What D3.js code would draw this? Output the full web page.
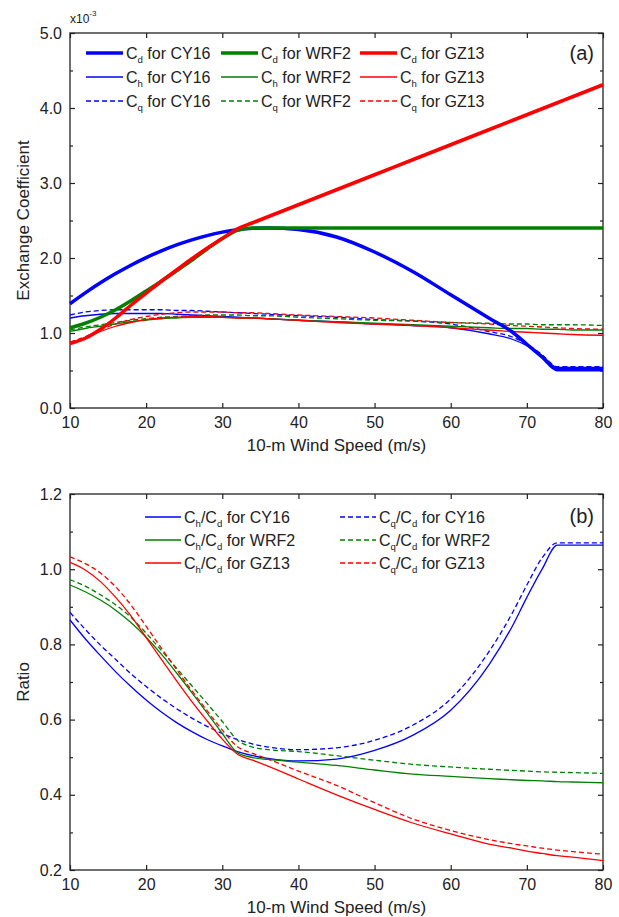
<!DOCTYPE html>
<html>
<head>
<meta charset="utf-8">
<script src="https://cdn.jsdelivr.net/npm/d3@7"></script>
<style>
  html, body { margin: 0; padding: 0; background: #fff; }
  svg { display: block; font-family: "Liberation Sans", Arial, Helvetica, sans-serif; }
</style>
</head>
<body>
<svg id="chart" width="619" height="917"></svg>
<script>
// 10-m wind speed (m/s) shared by every curve
const windSpeed = [10,12,14,16,18,20,22,24,26,28,30,32,34,36,40,45,50,55,60,65,68,70,72,74,76,80];

// Panel (a): exchange coefficients (x10^-3)
const cdCY16 = [1.39,1.535,1.669,1.792,1.904,2.005,2.095,2.174,2.242,2.299,2.345,2.378,2.395,2.40,2.38,2.28,2.08,1.82,1.51,1.20,1.02,0.85,0.68,0.51,0.51,0.51];
const cdWRF2 = [1.07,1.13,1.21,1.31,1.43,1.56,1.69,1.83,1.97,2.12,2.26,2.37,2.40,2.40,2.40,2.40,2.40,2.40,2.40,2.40,2.40,2.40,2.40,2.40,2.40,2.40];
const cdGZ13 = [0.86,0.93,1.05,1.20,1.37,1.53,1.69,1.84,1.99,2.13,2.26,2.39,2.47,2.55,2.71,2.91,3.11,3.31,3.51,3.71,3.83,3.91,3.99,4.07,4.15,4.31];
const chCY16 = [1.20,1.23,1.25,1.26,1.26,1.26,1.26,1.25,1.24,1.23,1.22,1.21,1.20,1.19,1.17,1.15,1.12,1.10,1.07,0.99,0.92,0.83,0.70,0.54,0.54,0.54];
const chWRF2 = [1.02,1.06,1.09,1.12,1.15,1.17,1.19,1.20,1.21,1.21,1.21,1.20,1.20,1.19,1.17,1.15,1.13,1.11,1.09,1.07,1.06,1.06,1.05,1.05,1.04,1.04];
const chGZ13 = [0.87,0.93,1.02,1.09,1.14,1.18,1.20,1.21,1.22,1.22,1.21,1.20,1.20,1.19,1.17,1.14,1.12,1.10,1.07,1.04,1.02,1.01,1.00,0.99,0.98,0.97];
const cqCY16 = [1.24,1.28,1.30,1.31,1.31,1.31,1.31,1.30,1.30,1.29,1.28,1.27,1.26,1.25,1.23,1.21,1.18,1.16,1.12,1.02,0.95,0.85,0.71,0.55,0.55,0.55];
const cqWRF2 = [1.04,1.08,1.11,1.14,1.17,1.19,1.21,1.22,1.23,1.24,1.24,1.24,1.23,1.23,1.21,1.19,1.17,1.16,1.14,1.13,1.12,1.12,1.11,1.11,1.11,1.10];
const cqGZ13 = [0.88,0.95,1.04,1.12,1.18,1.22,1.25,1.27,1.28,1.28,1.28,1.27,1.27,1.26,1.24,1.22,1.20,1.17,1.14,1.12,1.10,1.09,1.08,1.07,1.06,1.05];

// Panel (b): ratios
const chcdCY16 = [0.865,0.815,0.770,0.727,0.688,0.652,0.620,0.592,0.568,0.547,0.530,0.515,0.504,0.497,0.490,0.495,0.518,0.558,0.625,0.745,0.845,0.925,1.000,1.064,1.064,1.064];
const cqcdCY16 = [0.885,0.840,0.798,0.760,0.722,0.688,0.657,0.629,0.604,0.582,0.563,0.547,0.535,0.527,0.520,0.525,0.545,0.585,0.655,0.780,0.880,0.958,1.030,1.070,1.070,1.070];
const chcdWRF2 = [0.958,0.940,0.918,0.891,0.858,0.819,0.774,0.724,0.672,0.618,0.563,0.512,0.499,0.494,0.487,0.478,0.466,0.455,0.449,0.443,0.440,0.438,0.437,0.435,0.434,0.432];
const cqcdWRF2 = [0.972,0.955,0.932,0.905,0.872,0.830,0.784,0.737,0.690,0.643,0.595,0.545,0.527,0.520,0.515,0.504,0.492,0.481,0.474,0.468,0.465,0.463,0.461,0.460,0.459,0.457];
const chcdGZ13 = [1.018,0.998,0.967,0.925,0.876,0.818,0.760,0.703,0.648,0.597,0.548,0.508,0.492,0.476,0.442,0.400,0.361,0.325,0.296,0.269,0.258,0.250,0.244,0.238,0.234,0.225];
const cqcdGZ13 = [1.033,1.015,0.990,0.953,0.905,0.848,0.790,0.733,0.677,0.624,0.572,0.528,0.510,0.495,0.463,0.425,0.379,0.336,0.305,0.281,0.270,0.264,0.258,0.253,0.249,0.242];

// Axis ticks
const xTicks = [10,20,30,40,50,60,70,80];
const yTicksA = [0,1,2,3,4,5];
const yMinorA = [0.5,1.5,2.5,3.5,4.5];
const yTicksB = [0.2,0.4,0.6,0.8,1.0,1.2];
const yMinorB = [0.3,0.5,0.7,0.9,1.1];

const models = ["CY16", "WRF2", "GZ13"];
const colors = { CY16: "#0000ff", WRF2: "#008000", GZ13: "#ff0000" };

const svg = d3.select("#chart");
svg.append("rect").attr("width", 619).attr("height", 917).attr("fill", "#fff");

const x = d3.scaleLinear().domain([10, 80]).range([70, 603]);
const yA = d3.scaleLinear().domain([0, 5]).range([408, 33]);
const yB = d3.scaleLinear().domain([0.2, 1.2]).range([870, 494]);

const AXIS_COLOR = "#222";

function drawFrame(y, yTicks, yMinor) {
  const [y0, y1] = y.range();
  const g = svg.append("g");
  const style = sel => {
    sel.select(".domain").remove();
    sel.attr("font-family", null).attr("font-size", 16).attr("fill", AXIS_COLOR);
    sel.selectAll("line").attr("stroke", AXIS_COLOR).attr("stroke-width", 1.2);
    sel.selectAll("text").attr("fill", "#222");
  };
  g.append("g").attr("transform", `translate(0,${y0})`)
    .call(d3.axisBottom(x).tickValues(xTicks).tickSize(-5).tickPadding(9).tickFormat(d3.format("d"))).call(style);
  g.append("g").attr("transform", `translate(0,${y1})`)
    .call(d3.axisTop(x).tickValues(xTicks).tickSize(-5).tickFormat("")).call(style);
  g.append("g").attr("transform", `translate(${x.range()[0]},0)`)
    .call(d3.axisLeft(y).tickValues(yTicks).tickSize(-5).tickPadding(8).tickFormat(d3.format(".1f"))).call(style);
  g.append("g").attr("transform", `translate(${x.range()[0]},0)`)
    .call(d3.axisLeft(y).tickValues(yMinor).tickSize(-3).tickFormat("")).call(style);
  g.append("g").attr("transform", `translate(${x.range()[1]},0)`)
    .call(d3.axisRight(y).tickValues(yTicks).tickSize(-5).tickFormat("")).call(style);
  g.append("g").attr("transform", `translate(${x.range()[1]},0)`)
    .call(d3.axisRight(y).tickValues(yMinor).tickSize(-3).tickFormat("")).call(style);
  g.append("rect")
    .attr("x", x.range()[0]).attr("y", y1)
    .attr("width", x.range()[1] - x.range()[0]).attr("height", y0 - y1)
    .attr("fill", "none").attr("stroke", AXIS_COLOR).attr("stroke-width", 1.3);
  svg.append("text")
    .attr("x", (x.range()[0] + x.range()[1]) / 2).attr("y", y0 + 43)
    .attr("text-anchor", "middle").attr("font-size", 17).attr("fill", "#222")
    .text("10-m Wind Speed (m/s)");
}

function drawCurve(y, values, color, width, dashed) {
  const line = d3.line()
    .x((d, i) => x(windSpeed[i]))
    .y(d => y(d))
    .curve(d3.curveMonotoneX);
  svg.append("path")
    .datum(values)
    .attr("d", line)
    .attr("fill", "none")
    .attr("stroke", color)
    .attr("stroke-width", width)
    .attr("stroke-linejoin", "round")
    .attr("stroke-dasharray", dashed ? "5,3" : null);
}

// Text with subscripts: parts = [[text, isSub], ...]
function richText(px, py, parts, size) {
  const t = svg.append("text").attr("x", px).attr("y", py)
    .attr("font-size", size).attr("fill", "#222");
  let sub = false;
  parts.forEach(([s, isSub]) => {
    const ts = t.append("tspan").text(s);
    if (isSub && !sub) { ts.attr("dy", 4).attr("font-size", size * 0.6); sub = true; }
    else if (isSub) { ts.attr("font-size", size * 0.6); }
    else if (!isSub && sub) { ts.attr("dy", -4); sub = false; }
  });
  return t;
}

function legendSample(x0, x1, yy, color, width, dashed) {
  svg.append("line").attr("x1", x0).attr("x2", x1).attr("y1", yy).attr("y2", yy)
    .attr("stroke", color).attr("stroke-width", width)
    .attr("stroke-dasharray", dashed ? "5,3" : null);
}

// ---------- Panel (a) ----------
drawFrame(yA, yTicksA, yMinorA);

const thinA = { CY16: [chCY16, cqCY16], WRF2: [chWRF2, cqWRF2], GZ13: [chGZ13, cqGZ13] };
const thickA = { CY16: cdCY16, WRF2: cdWRF2, GZ13: cdGZ13 };
models.forEach(m => {
  drawCurve(yA, thinA[m][1], colors[m], 1.3, true);
  drawCurve(yA, thinA[m][0], colors[m], 1.3, false);
});
models.forEach(m => drawCurve(yA, thickA[m], colors[m], 3.5, false));

// y-axis title and scale factor
svg.append("text")
  .attr("transform", `translate(29,${yA(2.5)}) rotate(-90)`)
  .attr("text-anchor", "middle").attr("font-size", 17).attr("fill", "#222")
  .text("Exchange Coefficient");
const sf = svg.append("text").attr("x", 70).attr("y", 23).attr("font-size", 12).attr("fill", "#222");
sf.append("tspan").text("x10");
sf.append("tspan").attr("dy", -7).attr("font-size", 8).text("-3");

svg.append("text").attr("x", 594).attr("y", 60).attr("text-anchor", "end")
  .attr("font-size", 20).attr("fill", "#222").text("(a)");

// legend (a)
const legColsA = [86, 221, 360];
const legRowsA = [53, 77, 101];
const legStylesA = [
  { sub: "d", width: 3.5, dashed: false },
  { sub: "h", width: 1.3, dashed: false },
  { sub: "q", width: 1.3, dashed: true }
];
models.forEach((m, ci) => {
  legStylesA.forEach((s, ri) => {
    const lx = legColsA[ci], ly = legRowsA[ri];
    legendSample(lx, lx + 37, ly, colors[m], s.width, s.dashed);
    richText(lx + 40, ly + 6, [["C", false], [s.sub, true], [" for " + m, false]], 16);
  });
});

// ---------- Panel (b) ----------
drawFrame(yB, yTicksB, yMinorB);

const ratioB = {
  CY16: [chcdCY16, cqcdCY16], WRF2: [chcdWRF2, cqcdWRF2], GZ13: [chcdGZ13, cqcdGZ13]
};
models.forEach(m => {
  drawCurve(yB, ratioB[m][0], colors[m], 1.3, false);
  drawCurve(yB, ratioB[m][1], colors[m], 1.3, true);
});

svg.append("text")
  .attr("transform", `translate(29,${yB(0.7)}) rotate(-90)`)
  .attr("text-anchor", "middle").attr("font-size", 17).attr("fill", "#222")
  .text("Ratio");

svg.append("text").attr("x", 594).attr("y", 523).attr("text-anchor", "end")
  .attr("font-size", 20).attr("fill", "#222").text("(b)");

// legend (b)
const legColsB = [145, 340];
const legRowsB = [517, 540, 563];
models.forEach((m, ri) => {
  [["h", false], ["q", true]].forEach(([sub, dashed], ci) => {
    const lx = legColsB[ci], ly = legRowsB[ri];
    legendSample(lx, lx + 36, ly, colors[m], 1.3, dashed);
    richText(lx + 39, ly + 6, [["C", false], [sub, true], ["/C", false], ["d", true], [" for " + m, false]], 16);
  });
});
</script>
</body>
</html>
